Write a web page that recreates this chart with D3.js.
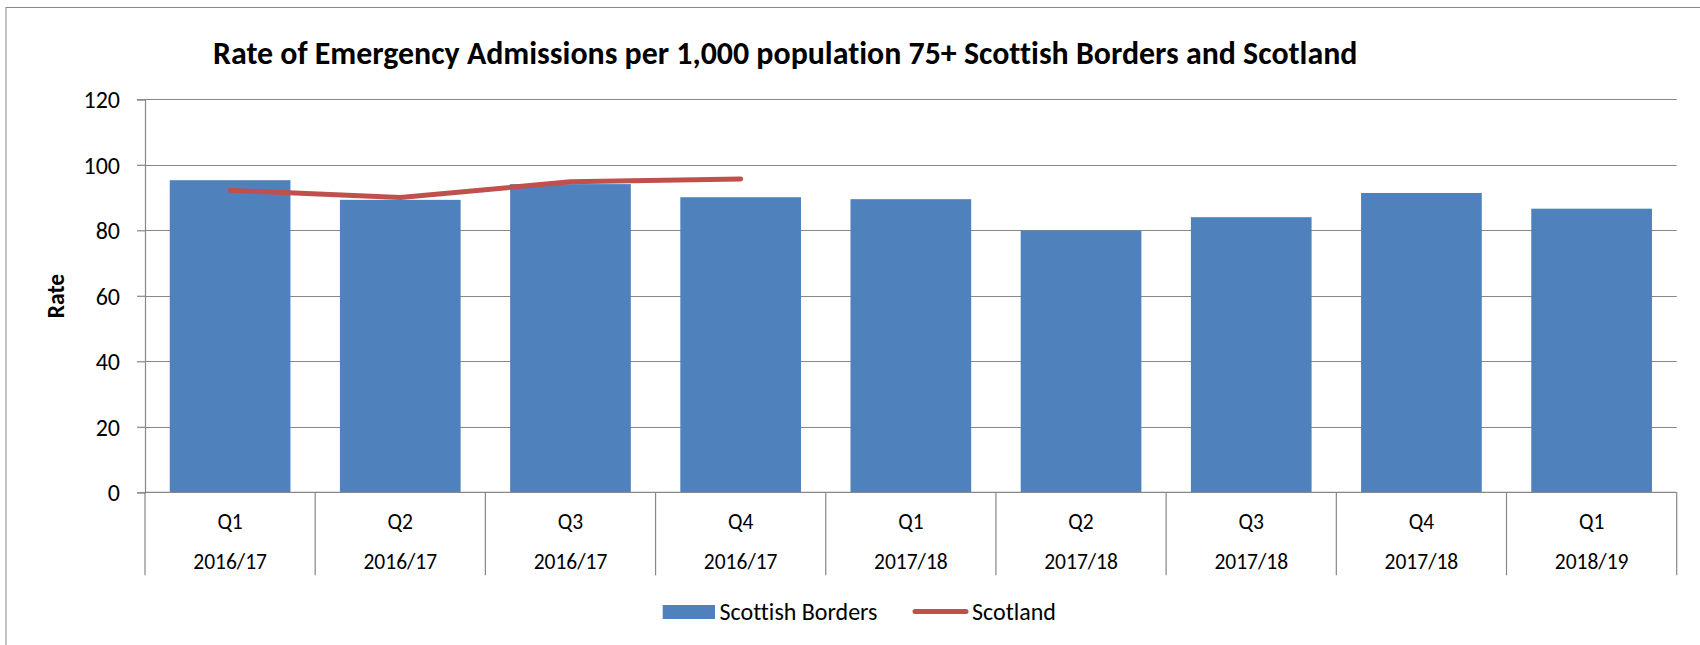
<!DOCTYPE html>
<html>
<head>
<meta charset="utf-8">
<script src="https://cdn.jsdelivr.net/npm/d3@7"></script>
<style>
  html, body { margin: 0; padding: 0; background: #ffffff; }
  svg { display: block; font-family: Calibri, Carlito, Lato, sans-serif; font-variant-ligatures: none; }
</style>
</head>
<body>
<svg id="chart" width="1700" height="645"></svg>
<script>
// Quarterly rate of emergency admissions per 1,000 population aged 75+
const quarters = ["Q1", "Q2", "Q3", "Q4", "Q1", "Q2", "Q3", "Q4", "Q1"];
const years = ["2016/17", "2016/17", "2016/17", "2016/17", "2017/18", "2017/18", "2017/18", "2017/18", "2018/19"];
const bordersRate = [95.3, 89.3, 94.1, 90.1, 89.5, 79.9, 84.0, 91.4, 86.6];
const scotlandRate = [92.2, 90.0, 94.8, 95.7];
const yTicks = [0, 20, 40, 60, 80, 100, 120];
const seriesNames = ["Scottish Borders", "Scotland"];
const titleText = "Rate of Emergency Admissions per 1,000 population 75+ Scottish Borders and Scotland";
const yTitle = "Rate";

const svg = d3.select("#chart");
const plot = { left: 145, right: 1676.7, top: 99.3, bottom: 492.3 };
const gridColor = "#878787";
const barColor = "#4F81BD";
const lineColor = "#C0504D";
const fontFamily = "Calibri, Carlito, Lato, sans-serif";

// Chart area frame
svg.append("rect")
  .attr("x", 6).attr("y", 7.5)
  .attr("width", 1740).attr("height", 700)
  .attr("fill", "#fff").attr("stroke", gridColor).attr("stroke-width", 1);

const idx = d3.range(quarters.length);
const x = d3.scaleBand().domain(idx).range([plot.left, plot.right])
  .paddingInner(0.2908).paddingOuter(0.1454);
const y = d3.scaleLinear().domain([0, 120]).range([plot.bottom, plot.top]);

// Horizontal gridlines
svg.append("g").selectAll("line").data(yTicks.filter(t => t > 0)).join("line")
  .attr("x1", plot.left).attr("x2", plot.right)
  .attr("y1", d => Math.round(y(d)) + 0.5).attr("y2", d => Math.round(y(d)) + 0.5)
  .attr("stroke", gridColor).attr("stroke-width", 1.2);

// Bars
svg.append("g").selectAll("rect").data(idx).join("rect")
  .attr("x", i => x(i))
  .attr("width", x.bandwidth())
  .attr("y", i => y(bordersRate[i]))
  .attr("height", i => y(0) - y(bordersRate[i]))
  .attr("fill", barColor);

// Y axis
const yAxis = svg.append("g")
  .attr("transform", `translate(${plot.left},0)`)
  .call(d3.axisLeft(y).tickValues(yTicks).tickSize(8).tickPadding(17).tickFormat(d3.format("d")));
yAxis.select(".domain").attr("stroke", gridColor).attr("stroke-width", 1.2);
yAxis.selectAll(".tick line").attr("stroke", gridColor).attr("stroke-width", 1.2);
yAxis.selectAll(".tick text")
  .attr("font-family", fontFamily)
  .attr("font-size", 24).attr("fill", "#000").attr("dy", "0.36em");

// Category axis with two-level labels (quarter over financial year)
const xAxis = svg.append("g")
  .attr("transform", `translate(0,${plot.bottom})`)
  .call(d3.axisBottom(x).tickSize(0).tickPadding(0).tickFormat(i => quarters[i]));
xAxis.select(".domain").remove();
xAxis.selectAll(".tick text")
  .attr("font-family", fontFamily)
  .attr("font-size", 21.5).attr("fill", "#000")
  .attr("y", 37).attr("dy", 0);
xAxis.selectAll(".tick").append("text")
  .attr("font-family", fontFamily)
  .attr("font-size", 21.5).attr("fill", "#000")
  .attr("text-anchor", "middle").attr("y", 77)
  .text(i => years[i]);

svg.append("line")
  .attr("x1", plot.left).attr("x2", plot.right)
  .attr("y1", plot.bottom).attr("y2", plot.bottom)
  .attr("stroke", gridColor).attr("stroke-width", 1.2);

// Dividers between categories, at every band boundary
const dividers = d3.range(quarters.length + 1).map(k => plot.left + k * x.step());
svg.append("g").selectAll("line").data(dividers).join("line")
  .attr("x1", d => d).attr("x2", d => d)
  .attr("y1", plot.bottom).attr("y2", plot.bottom + 83)
  .attr("stroke", gridColor).attr("stroke-width", 1.2);

// Scotland line
const line = d3.line()
  .x((d, i) => x(i) + x.bandwidth() / 2)
  .y(d => y(d));
svg.append("path")
  .datum(scotlandRate)
  .attr("d", line)
  .attr("fill", "none")
  .attr("stroke", lineColor)
  .attr("stroke-width", 5)
  .attr("stroke-linecap", "round")
  .attr("stroke-linejoin", "round");

// Y axis title
svg.append("text")
  .attr("transform", "translate(64,296) rotate(-90)")
  .attr("text-anchor", "middle")
  .attr("font-weight", "bold").attr("font-size", 23.5).attr("fill", "#000")
  .text(yTitle);

// Chart title, sized to its span
const title = svg.append("text")
  .attr("x", 213).attr("y", 64)
  .attr("font-weight", "bold").attr("font-size", 100).attr("fill", "#000")
  .text(titleText);
const tw = title.node().getComputedTextLength();
title.attr("font-size", 100 * 1145 / tw);

// Legend
const legend = svg.append("g");
legend.append("rect")
  .attr("x", 662.7).attr("y", 605).attr("width", 52.3).attr("height", 14)
  .attr("fill", barColor);
legend.append("text")
  .attr("x", 719.5).attr("y", 620)
  .attr("font-size", 24).attr("fill", "#000")
  .text(seriesNames[0]);
legend.append("line")
  .attr("x1", 915).attr("x2", 966).attr("y1", 611.5).attr("y2", 611.5)
  .attr("stroke", lineColor).attr("stroke-width", 5).attr("stroke-linecap", "round");
legend.append("text")
  .attr("x", 972).attr("y", 620)
  .attr("font-size", 24).attr("fill", "#000")
  .text(seriesNames[1]);
</script>
</body>
</html>
